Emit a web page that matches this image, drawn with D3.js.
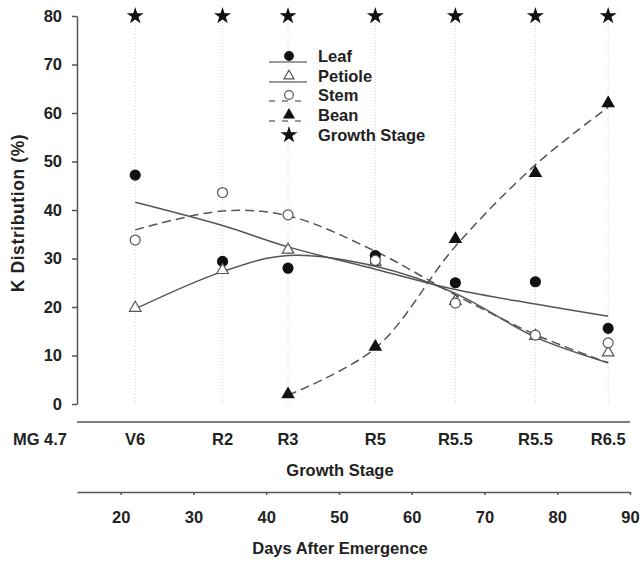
<!DOCTYPE html>
<html>
<head>
<meta charset="utf-8">
<script src="https://cdn.jsdelivr.net/npm/d3@7"></script>
<style>
  body { margin: 0; background: #fff; }
  text { font-family: "Liberation Sans", Arial, sans-serif; font-weight: bold; fill: #222; }
</style>
</head>
<body>
<div id="chart"></div>
<script>
// sampling days and growth stage labels
const days = [22, 34, 43, 55, 66, 77, 87];
const stages = ["V6", "R2", "R3", "R5", "R5.5", "R5.5", "R6.5"];
const yTicks = [0, 10, 20, 30, 40, 50, 60, 70, 80];
const dayTicks = [20, 30, 40, 50, 60, 70, 80, 90];

// measured K distribution (%)
const leaf = [47.2, 29.4, 28.0, 30.6, 25.0, 25.2, 15.6];
const petiole = [19.8, 27.6, 31.8, 29.2, 21.2, 14.0, 10.6];
const stem = [33.8, 43.6, 39.0, 29.6, 20.8, 14.2, 12.6];
const bean = [null, null, 2.0, 11.8, 34.0, 47.6, 62.0];

// fitted curves at the same days
const leafFit = [41.6, 36.8, 32.4, 27.8, 23.6, 20.6, 18.1];
const petioleFit = [19.6, 27.3, 30.6, 28.4, 22.8, 13.8, 8.5];
const stemFit = [35.9, 39.8, 38.8, 31.5, 22.5, 14.3, 8.5];
const beanFit = [null, null, 1.8, 11.5, 32.5, 49.3, 61.2];

const growthStageLevel = 80;

const W = 642, H = 565;
const FS = 16.5;
const svg = d3.select("#chart").append("svg")
    .attr("width", W).attr("height", H);

const x = d3.scaleLinear().domain([14, 90]).range([77, 630]);
const y = d3.scaleLinear().domain([0, 80]).range([404, 16]);

// dotted guide lines at each sampling day
svg.append("g").selectAll("line")
    .data(days).enter().append("line")
    .attr("x1", d => x(d)).attr("x2", d => x(d))
    .attr("y1", y(80)).attr("y2", y(0))
    .attr("stroke", "#d4d4d4")
    .attr("stroke-width", 1)
    .attr("stroke-dasharray", "1,2");

// Y axis
const yAxis = svg.append("g")
    .attr("transform", `translate(${x(14)},0)`)
    .call(d3.axisLeft(y).tickValues(yTicks).tickSize(5).tickPadding(10).tickSizeOuter(0));
yAxis.select(".domain").attr("stroke", "#555").attr("stroke-width", 1.5);
yAxis.selectAll(".tick line").attr("stroke", "#555").attr("stroke-width", 1.5);
yAxis.selectAll("text").attr("font-size", FS).attr("fill", "#222")
    .attr("font-family", "Liberation Sans, Arial, sans-serif").attr("font-weight", "bold");

svg.append("text")
    .attr("transform", "rotate(-90)")
    .attr("x", -213).attr("y", 24)
    .attr("text-anchor", "middle")
    .attr("font-size", 17.5)
    .attr("letter-spacing", 0.6)
    .text("K Distribution (%)");

// growth stage axis
svg.append("line")
    .attr("x1", x(14)).attr("x2", x(90))
    .attr("y1", 422).attr("y2", 422)
    .attr("stroke", "#555").attr("stroke-width", 1.5);

svg.append("g").selectAll("text")
    .data(days).enter().append("text")
    .attr("x", d => x(d)).attr("y", 445)
    .attr("text-anchor", "middle")
    .attr("font-size", FS)
    .text((d, i) => stages[i]);

svg.append("text")
    .attr("x", 40).attr("y", 445)
    .attr("text-anchor", "middle")
    .attr("font-size", FS)
    .text("MG 4.7");

svg.append("text")
    .attr("x", 340).attr("y", 476)
    .attr("text-anchor", "middle")
    .attr("font-size", FS)
    .text("Growth Stage");

// days after emergence axis
const dAxis = svg.append("g")
    .attr("transform", "translate(0,492)")
    .call(d3.axisBottom(x).tickValues(dayTicks).tickSize(3).tickPadding(16).tickSizeOuter(0));
dAxis.select(".domain").attr("stroke", "#555").attr("stroke-width", 1.5);
dAxis.selectAll(".tick line").attr("stroke", "#555").attr("stroke-width", 1.5);
dAxis.selectAll("text").attr("font-size", FS).attr("fill", "#222")
    .attr("font-family", "Liberation Sans, Arial, sans-serif").attr("font-weight", "bold");

svg.append("text")
    .attr("x", 340).attr("y", 554)
    .attr("text-anchor", "middle")
    .attr("font-size", FS)
    .text("Days After Emergence");

// fitted curves
const line = d3.line()
    .x(d => x(d[0])).y(d => y(d[1]))
    .curve(d3.curveCatmullRom.alpha(0.5));

const fits = [
    { vals: leafFit, dash: null },
    { vals: petioleFit, dash: null },
    { vals: stemFit, dash: "9,5" },
    { vals: beanFit, dash: "9,5" }
];

fits.forEach(f => {
    const pts = days.map((d, i) => [d, f.vals[i]]).filter(p => p[1] != null);
    svg.append("path")
        .datum(pts)
        .attr("d", line)
        .attr("fill", "none")
        .attr("stroke", "#555")
        .attr("stroke-width", 1.5)
        .attr("stroke-dasharray", f.dash);
});

// point markers
const circleSym = d3.symbol().type(d3.symbolCircle).size(78);
const triSym = d3.symbol().type(d3.symbolTriangle).size(58);
const starSym = d3.symbol().type(d3.symbolStar).size(90);

const series = [
    { name: "Leaf", vals: leaf, sym: circleSym, fill: "#111", stroke: "#111", dash: null },
    { name: "Petiole", vals: petiole, sym: triSym, fill: "#fff", stroke: "#555", dash: null },
    { name: "Stem", vals: stem, sym: circleSym, fill: "#fff", stroke: "#555", dash: "6,7" },
    { name: "Bean", vals: bean, sym: triSym, fill: "#111", stroke: "#111", dash: "6,7" }
];

series.forEach(s => {
    const pts = days.map((d, i) => [d, s.vals[i]]).filter(p => p[1] != null);
    svg.append("g").selectAll("path")
        .data(pts).enter().append("path")
        .attr("d", s.sym)
        .attr("transform", d => `translate(${x(d[0])},${y(d[1])})`)
        .attr("fill", s.fill)
        .attr("stroke", s.stroke)
        .attr("stroke-width", 1.2);
});

svg.append("g").selectAll("path")
    .data(days).enter().append("path")
    .attr("d", starSym)
    .attr("transform", d => `translate(${x(d)},${y(growthStageLevel)})`)
    .attr("fill", "#111");

// legend
const legend = svg.append("g").attr("transform", "translate(289,0)");
const rowY = [56, 76, 95, 115];
series.forEach((s, i) => {
    legend.append("line")
        .attr("x1", -20).attr("x2", 18)
        .attr("y1", rowY[i] + 6).attr("y2", rowY[i] + 6)
        .attr("stroke", "#777").attr("stroke-width", 1.5)
        .attr("stroke-dasharray", s.dash);
    legend.append("path")
        .attr("d", d3.symbol().type(s.sym.type()).size(s.sym.size()() * 0.75))
        .attr("transform", `translate(0,${rowY[i]})`)
        .attr("fill", s.fill)
        .attr("stroke", s.stroke)
        .attr("stroke-width", 1.2);
    legend.append("text")
        .attr("x", 29).attr("y", rowY[i] + 6)
        .attr("font-size", FS)
        .text(s.name);
});
legend.append("path")
    .attr("d", starSym)
    .attr("transform", "translate(0,135)")
    .attr("fill", "#111");
legend.append("text")
    .attr("x", 29).attr("y", 141)
    .attr("font-size", FS)
    .text("Growth Stage");
</script>
</body>
</html>
